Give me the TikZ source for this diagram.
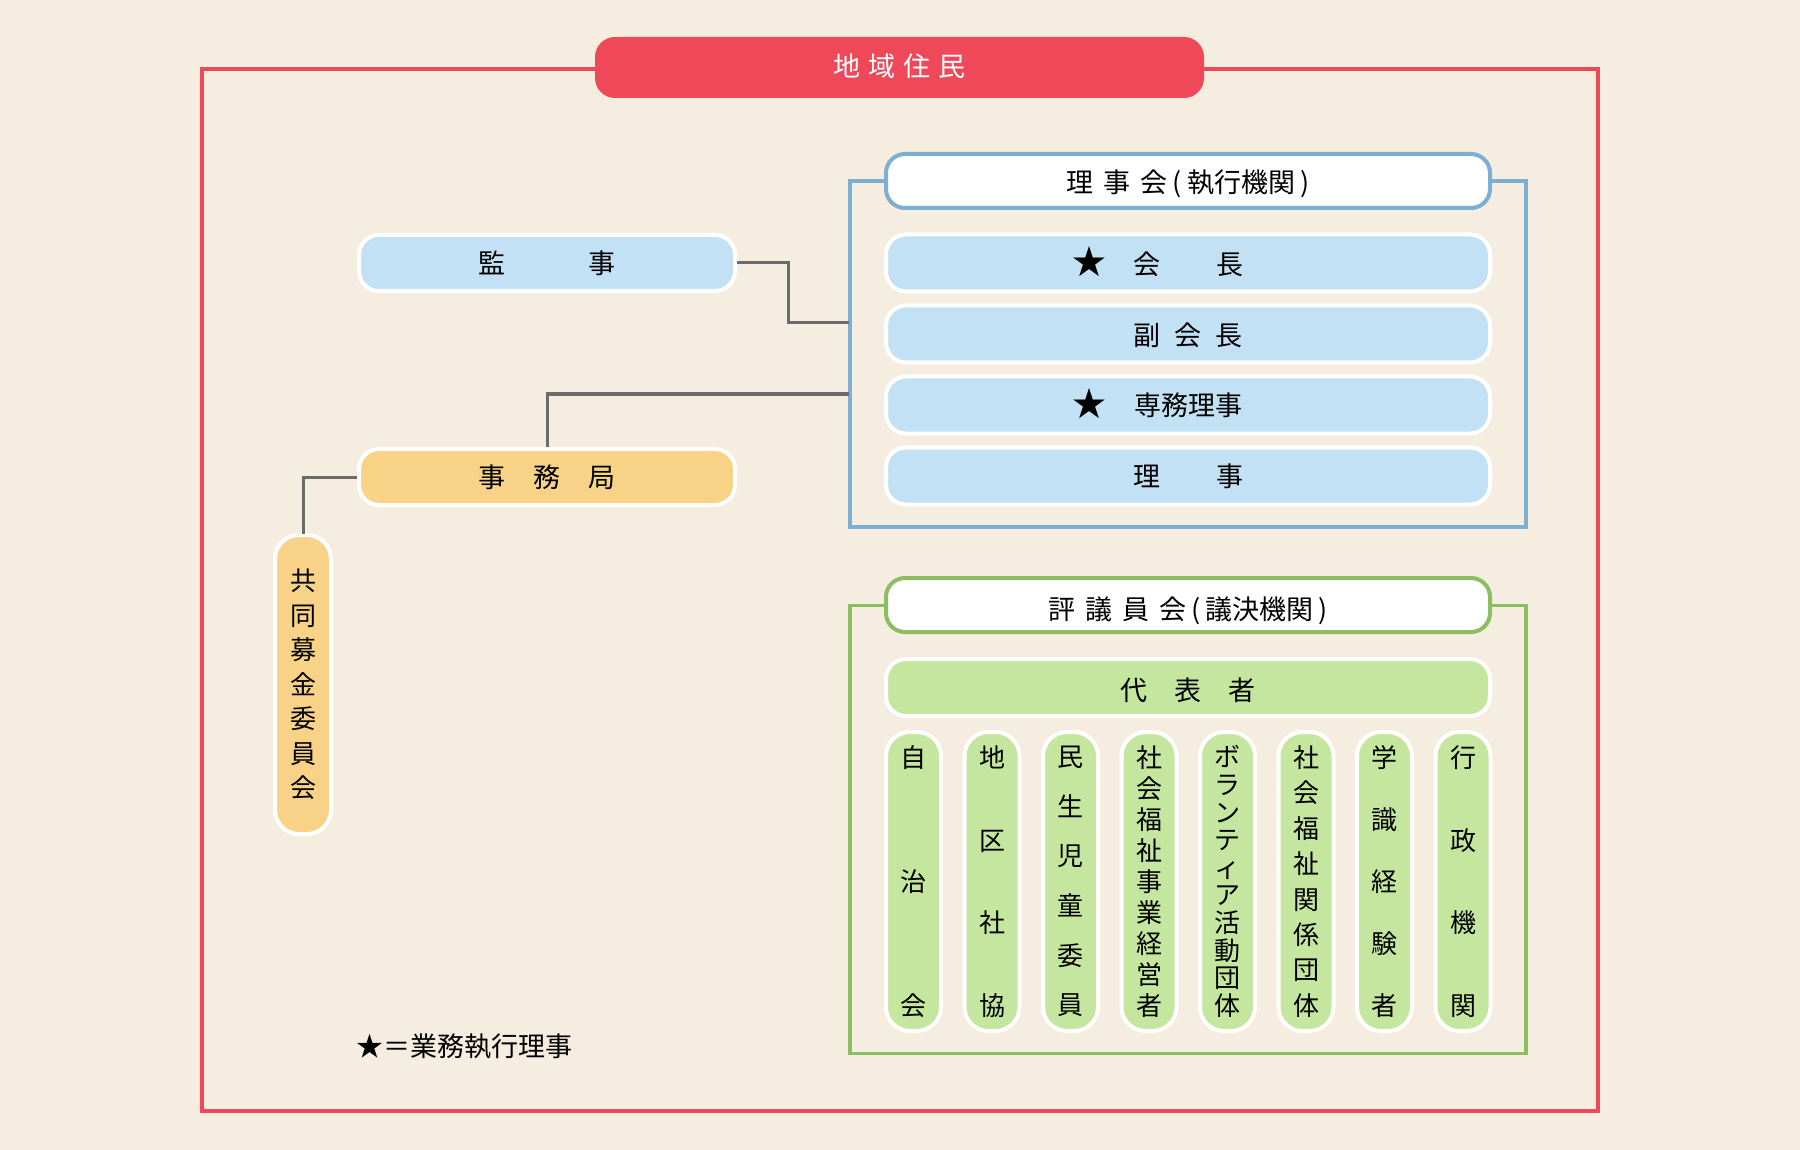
\documentclass[tikz,border=0pt]{standalone}
\usepackage{fontspec}
\newfontfamily\jp{Noto Sans CJK JP}
\definecolor{bgc}{HTML}{F5EDDF}
\definecolor{redc}{HTML}{EE4859}
\definecolor{bluel}{HTML}{7DAFD3}
\definecolor{bluef}{HTML}{C2E1F5}
\definecolor{greenl}{HTML}{8CBE5F}
\definecolor{greenf}{HTML}{C4E69E}
\definecolor{orangef}{HTML}{F8D387}
\definecolor{grayc}{HTML}{6B6B6B}
\newcommand{\fs}[2]{\jp\fontsize{#1}{#2}\selectfont}
\newcommand{\lowtxt}[2]{\vphantom{会}\raisebox{-#1}[0pt][0pt]{#2}}
\begin{document}
\begin{tikzpicture}[x=1pt,y=-1pt,
  every node/.style={inner sep=0pt,outer sep=0pt,font=\fs{27}{32}},
  frame/.style={draw=#1,line width=3.5pt,fill=none},
  header/.style={draw=#1,line width=4pt,fill=white,rounded corners=19pt,minimum width=604pt,minimum height=54pt},
  hbox/.style={draw=white,line width=4pt,fill=#1,rounded corners=20pt,minimum width=604pt,minimum height=57pt},
  sbox/.style={draw=white,line width=4pt,fill=#1,rounded corners=20pt,minimum width=376pt,minimum height=56pt},
  vbox/.style={draw=white,line width=4pt,fill=greenf,rounded corners=24pt,minimum width=55pt,minimum height=299pt,align=center},
  conn/.style={draw=grayc,line width=3pt,shorten <=2pt,shorten >=1.5pt},
  starn/.style={font=\fs{34}{36}}]
\fill[bgc] (0,0) rectangle (1800,1150);
\useasboundingbox (0,0) rectangle (1800,1150);

% outer red frame and title
\node[frame=redc,minimum width=1396pt,minimum height=1042pt] (outer) at (900,590) {};
\node[fill=redc,rounded corners=20pt,minimum width=609pt,minimum height=61pt,text=white] (jumin) at (899.5,67.5) {\lowtxt{-1pt}{地\kern8pt域\kern8pt住\kern8pt民}};

% board frame
\node[frame=bluel,minimum width=676pt,minimum height=346pt] (frame1) at (1188,354) {};
\node[header=bluel] (rijikai) at (1188,181) {\lowtxt{1pt}{理\kern10pt事\kern10pt会\kern5pt(\kern5pt執行機関\kern5pt)}};
\node[hbox=bluef] (kaicho) at (1188,263) {\lowtxt{1pt}{会\kern56pt長}};
\node[starn] (star1) at (1089,262) {★};
\node[hbox=bluef] (fuku) at (1188,334) {\lowtxt{1pt}{副\kern14pt会\kern14pt長}};
\node[hbox=bluef] (senmu) at (1188,405) {専務理事};
\node[starn] (star2) at (1089,404) {★};
\node[hbox=bluef] (riji) at (1188,476) {理\kern56pt事};

% council frame
\node[frame=greenl,minimum width=676pt,minimum height=448pt] (frame2) at (1188,829.5) {};
\node[header=greenl] (hyogi) at (1188,605) {\lowtxt{4pt}{評\kern10pt議\kern10pt員\kern10pt会\kern5pt(\kern5pt議決機関\kern5pt)}};
\node[hbox=greenf] (daihyo) at (1188,687.5) {\lowtxt{2.5pt}{代\kern27pt表\kern27pt者}};
\node[vbox,font=\fs{26}{124}] (v1) at (913.5,881.5) {自\\治\\会};
\node[vbox,font=\fs{26}{82.7}] (v2) at (992,881.5) {地\\区\\社\\協};
\node[vbox,font=\fs{26}{49.6}] (v3) at (1070.5,881.5) {民\\生\\児\\童\\委\\員};
\node[vbox,font=\fs{26}{31}] (v4) at (1149,881.5) {社\\会\\福\\祉\\事\\業\\経\\営\\者};
\node[vbox,font=\fs{26}{27.6}] (v5) at (1227.5,881.5) {ボ\\ラ\\ン\\テ\\ィ\\ア\\活\\動\\団\\体};
\node[vbox,font=\fs{26}{35.4}] (v6) at (1306,881.5) {社\\会\\福\\祉\\関\\係\\団\\体};
\node[vbox,font=\fs{26}{62}] (v7) at (1384.5,881.5) {学\\識\\経\\験\\者};
\node[vbox,font=\fs{26}{82.7}] (v8) at (1463,881.5) {行\\政\\機\\関};

% left side
\node[sbox=bluef] (kanji) at (547,263) {監\kern83pt事};
\node[sbox=orangef] (jimu) at (547,477) {事\kern28pt務\kern28pt局};
\node[draw=white,line width=4pt,fill=orangef,rounded corners=24pt,minimum width=56pt,minimum height=299pt,align=center,font=\fs{26}{34.5}] (kyodo) at (303,684.5) {共\\同\\募\\金\\委\\員\\会};

% connectors
\draw[conn] (kanji.east) -- ++(53,0) |- ([yshift=31pt]frame1.west);
\draw[conn] (jimu.north) |- ([yshift=-40pt]frame1.west);
\draw[conn] (jimu.west) -| (kyodo.north);

% legend
\node[anchor=west] (legend) at (356,1046) {★＝業務執行理事};
\end{tikzpicture}
\end{document}
